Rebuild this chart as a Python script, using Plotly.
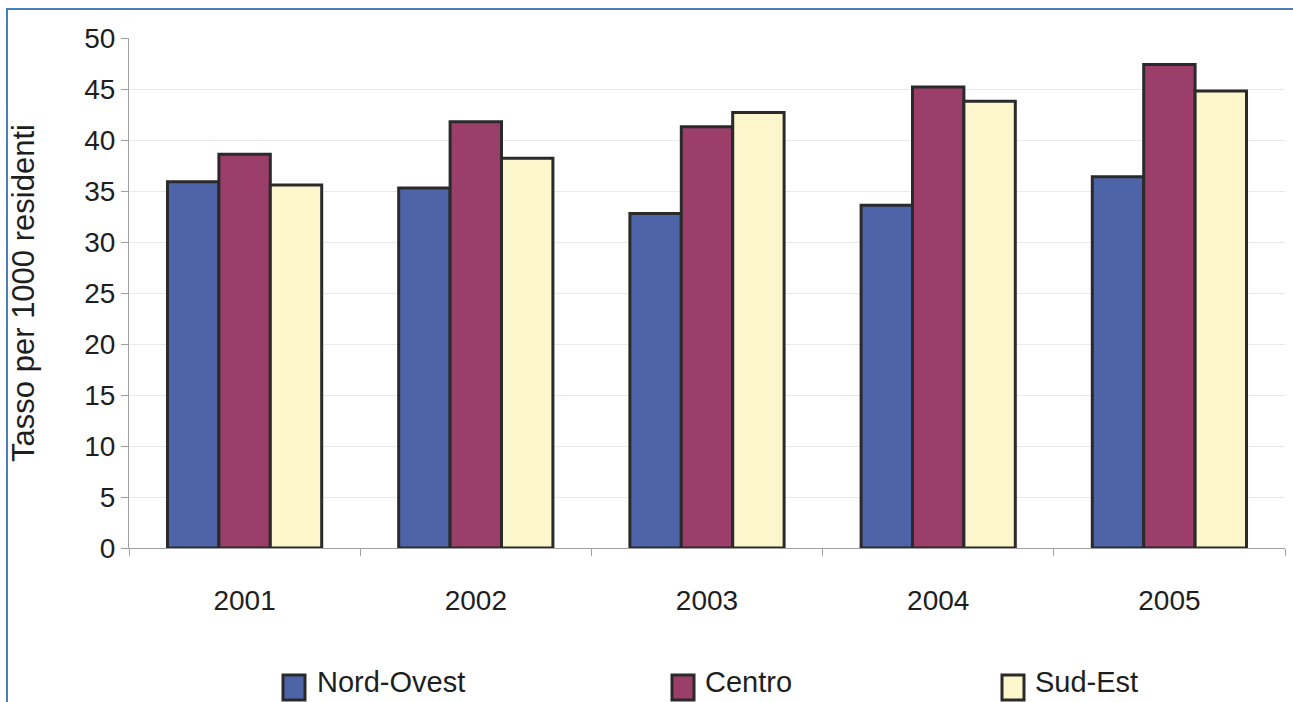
import plotly.graph_objects as go

# Tasso per 1000 residenti, per anno e area geografica
anni = ["2001", "2002", "2003", "2004", "2005"]
nord_ovest = [35.9, 35.3, 32.8, 33.6, 36.4]
centro = [38.6, 41.8, 41.3, 45.2, 47.4]
sud_est = [35.6, 38.2, 42.7, 43.8, 44.8]

serie_nomi = ["Nord-Ovest", "Centro", "Sud-Est"]
serie_valori = [nord_ovest, centro, sud_est]
serie_colori = ["#4e64a8", "#9b3e6a", "#fbf6cb"]

W, H = 1293, 702
M_L, M_R, M_T, M_B = 129, 8, 38, 154
PW, PH = W - M_L - M_R, H - M_T - M_B


def px_x(px):
    return (px - M_L) / PW


def px_y(py):
    return (H - M_B - py) / PH


FONT = "Liberation Sans, Arial, sans-serif"
TEXT = "#1e1e1e"
EDGE = "#2a2a2a"

fig = go.Figure()
for nome, valori, colore in zip(serie_nomi, serie_valori, serie_colori):
    fig.add_trace(go.Bar(
        x=anni, y=valori, name=nome,
        marker=dict(color=colore, line=dict(color=EDGE, width=3)),
        showlegend=False,
    ))

shapes = []
annotations = []

# Legenda: quadratini e etichette sotto il grafico
leg_pos = [(283, 305, 315), (672, 694, 703), (1002, 1024, 1033)]
for (sx0, sx1, tx), nome, colore in zip(leg_pos, serie_nomi, serie_colori):
    shapes.append(dict(
        type="rect", xref="paper", yref="paper",
        x0=px_x(sx0), x1=px_x(sx1), y0=px_y(700), y1=px_y(675),
        fillcolor=colore, line=dict(color=EDGE, width=3),
    ))
    annotations.append(dict(
        xref="paper", yref="paper", x=px_x(tx), y=px_y(682),
        xanchor="left", yanchor="middle", showarrow=False,
        text=nome, font=dict(family=FONT, size=29, color=TEXT),
    ))

# Cornice blu (lati sinistro e superiore)
shapes.append(dict(
    type="path", xref="paper", yref="paper",
    path=f"M {px_x(7)},{px_y(720)} L {px_x(7)},{px_y(9)} L {px_x(1300)},{px_y(9)}",
    line=dict(color="#4a7ebb", width=2),
))

fig.update_layout(
    width=W, height=H,
    margin=dict(l=M_L, r=M_R, t=M_T, b=M_B, autoexpand=False),
    paper_bgcolor="white", plot_bgcolor="white",
    barmode="group", bargap=0.333, bargroupgap=0,
    font=dict(family=FONT, size=28, color=TEXT),
    shapes=shapes, annotations=annotations,
    showlegend=False,
)

fig.update_xaxes(
    type="category", showgrid=False,
    showline=True, linecolor="#a0a0a0", linewidth=1,
    ticks="outside", tickson="boundaries", ticklen=7, tickcolor="#a0a0a0",
    ticklabelstandoff=27,
    tickfont=dict(family=FONT, size=28, color=TEXT),
)
fig.update_yaxes(
    range=[0, 50], dtick=5, tick0=0,
    showgrid=True, gridcolor="#e9e9e9", gridwidth=1,
    showline=True, linecolor="#a0a0a0", linewidth=1,
    ticks="outside", ticklen=7, tickcolor="#a0a0a0",
    tickfont=dict(family=FONT, size=28, color=TEXT),
    zeroline=False,
    title=dict(text="Tasso per 1000 residenti", standoff=40,
               font=dict(family=FONT, size=31, color=TEXT)),
    automargin=False,
)

fig.write_html("out.html")
